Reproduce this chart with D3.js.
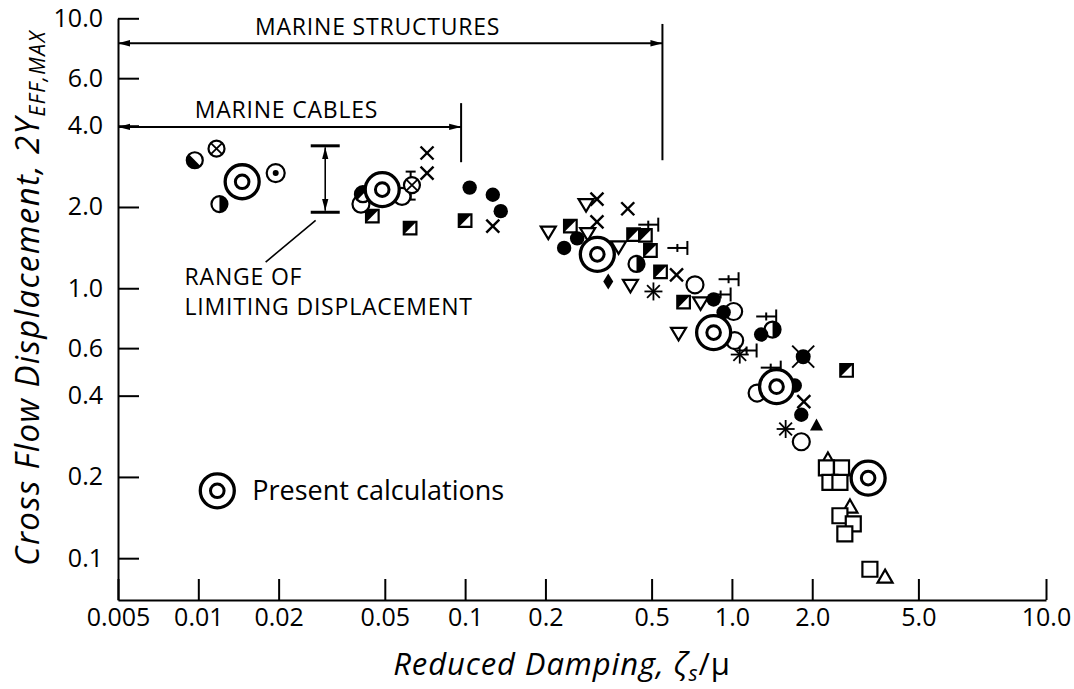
<!DOCTYPE html>
<html>
<head>
<meta charset="utf-8">
<script src="https://cdn.jsdelivr.net/npm/d3@7"></script>
<style>
  body { margin: 0; background: #fff; }
  svg { display: block; font-family: "Open Sans", sans-serif; }
</style>
</head>
<body>
<svg id="chart" width="1074" height="689"></svg>
<script>
// axis ticks
var xTicks = [0.005, 0.01, 0.02, 0.05, 0.1, 0.2, 0.5, 1, 2, 5, 10];
var xTickLabels = ["0.005", "0.01", "0.02", "0.05", "0.1", "0.2", "0.5", "1.0", "2.0", "5.0", "10.0"];
var yTicks = [0.1, 0.2, 0.4, 0.6, 1, 2, 4, 6, 10];
var yTickLabels = ["0.1", "0.2", "0.4", "0.6", "1.0", "2.0", "4.0", "6.0", "10.0"];

// points, [reduced damping, displacement], one array per symbol
var presentCalc = [[0.0146, 2.48], [0.0489, 2.32], [0.313, 1.335], [0.854, 0.685], [1.47, 0.432], [3.24, 0.198]];
var openCircle = [[0.0407, 2.05], [0.058, 2.19], [0.727, 1.03], [1.015, 0.82], [1.024, 0.64], [1.243, 0.409], [1.82, 0.27]];
var filledCircle = [[0.104, 2.36], [0.127, 2.22], [0.136, 1.93], [0.235, 1.41], [0.263, 1.53], [0.854, 0.909],
    [0.931, 0.815], [1.287, 0.674], [1.72, 0.436], [1.82, 0.34]];
var halfCircle = [[0.0097, 2.98, "ll"], [0.0120, 2.05, "r"], [0.0414, 2.23, "ul"], [0.439, 1.23, "r"], [1.42, 0.703, "r"]];
var circleCross = [[0.0117, 3.29], [0.0632, 2.41]];
var circleDot = [[0.0195, 2.67]];
var halfSquare = [[0.0449, 1.85], [0.0622, 1.67], [0.100, 1.78], [0.248, 1.70], [0.428, 1.58], [0.474, 1.57],
    [0.495, 1.38], [0.540, 1.15], [0.659, 0.888], [2.69, 0.496]];
var openSquare = [[2.26, 0.216], [2.575, 0.216], [2.33, 0.191], [2.54, 0.191], [2.54, 0.1436], [2.85, 0.134], [2.65, 0.123], [3.29, 0.091]];
var crossMark = [[0.072, 3.17], [0.072, 2.67], [0.127, 1.70], [0.312, 2.14], [0.407, 1.97], [0.312, 1.76], [0.620, 1.12], [1.86, 0.38]];
var triDown = [[0.205, 1.62], [0.284, 2.05], [0.288, 1.60], [0.376, 1.43], [0.4165, 1.03], [0.763, 0.886], [0.631, 0.683]];
var triUp = [[2.29, 0.23], [2.77, 0.154], [3.75, 0.0847]];
var triFilled = [[2.075, 0.31]];
var diamondFilled = [[0.344, 1.06]];
var asteriskMark = [[0.508, 0.973], [1.07, 0.568], [1.59, 0.301]];
var teeMark = [[0.49, 1.72], [0.63, 1.41], [0.98, 1.08], [0.915, 0.948], [1.145, 0.588], [1.356, 0.786], [1.41, 0.508]];
var barMark = [[0.0625, 2.40]];
var crossedDisc = [[1.85, 0.558]];

// ranges marked on the chart
var structuresRange = [0.005, 0.549, 8.08];   // x from, x to, at y
var structuresStop = [0.549, 9.53, 2.98];     // x, y top, y bottom
var cablesRange = [0.005, 0.0966, 3.96];
var cablesStop = [0.0966, 4.85, 2.93];
var limitRange = [0.0299, 1.912, 3.37];       // x, y low, y high
var limitLeader = [[0.02753, 1.785], [0.01788, 1.25]];
var labels = [
    ["MARINE STRUCTURES", 0.047, 8.67, "middle"],
    ["MARINE CABLES", 0.0214, 4.29, "middle"],
    ["RANGE OF", 0.00888, 1.024, "start"],
    ["LIMITING DISPLACEMENT", 0.00888, 0.793, "start"]
];
var legendAt = [0.01178, 0.1777];
var legendText = "Present calculations";

var ink = '#000';
var svg = d3.select('#chart');

// the printed x axis is even up to 5.0, the 10.0 tick is squeezed to the end of the axis
var x = d3.scaleLog().domain([0.005, 5, 10]).range([118, 918.4, 1046]);
var y = d3.scaleLog().domain([0.07, 10]).range([600, 18.3]);

var defs = svg.append('defs');
defs.append('marker')
    .attr('id', 'arrow')
    .attr('markerUnits', 'userSpaceOnUse')
    .attr('markerWidth', 12).attr('markerHeight', 8)
    .attr('refX', 12).attr('refY', 4)
    .attr('orient', 'auto-start-reverse')
    .append('path')
    .attr('d', 'M0,0.8L12,4L0,7.2Z')
    .attr('fill', ink);

// axes
var xAxis = d3.axisBottom(x).tickValues(xTicks).tickFormat(function (d, i) { return xTickLabels[i]; })
    .tickSize(-21).tickSizeOuter(0).tickPadding(8);
var yAxis = d3.axisLeft(y).tickValues(yTicks).tickFormat(function (d, i) { return yTickLabels[i]; })
    .tickSize(-21).tickSizeOuter(0).tickPadding(15);

var gx = svg.append('g').attr('transform', 'translate(0,600)').call(xAxis);
var gy = svg.append('g').attr('transform', 'translate(118,0)').call(yAxis);
[gx, gy].forEach(function (g) {
    g.attr('font-family', null).attr('font-size', null);
    g.selectAll('path, line').attr('stroke', ink).attr('stroke-width', 2);
    g.selectAll('text').attr('fill', ink).style('font-size', '25px');
});

// axis titles
var xt = svg.append('text')
    .attr('x', 562).attr('y', 675)
    .attr('text-anchor', 'middle')
    .style('font-size', '31px').style('font-style', 'italic').style('letter-spacing', '0.9px')
    .text('Reduced Damping, \u03B6');
xt.append('tspan').attr('dy', 6).style('font-size', '21px').text('s');
xt.append('tspan').attr('dy', -6).style('font-style', 'normal').text('/\u03BC');

var yt = svg.append('text')
    .attr('transform', 'translate(39,298) rotate(-90)')
    .attr('text-anchor', 'middle')
    .style('font-size', '33px').style('font-style', 'italic').style('letter-spacing', '1.4px')
    .text('Cross Flow Displacement, 2Y');
yt.append('tspan').attr('dy', 6).style('font-size', '21px').text('EFF,MAX');

// range annotations
function hArrow(r) {
    svg.append('line')
        .attr('x1', x(r[0])).attr('x2', x(r[1]))
        .attr('y1', y(r[2])).attr('y2', y(r[2]))
        .attr('stroke', ink).attr('stroke-width', 2)
        .attr('marker-start', 'url(#arrow)').attr('marker-end', 'url(#arrow)');
}
function vStop(s) {
    svg.append('line')
        .attr('x1', x(s[0])).attr('x2', x(s[0]))
        .attr('y1', y(s[1])).attr('y2', y(s[2]))
        .attr('stroke', ink).attr('stroke-width', 2);
}
hArrow(structuresRange);
vStop(structuresStop);
hArrow(cablesRange);
vStop(cablesStop);

var lx = x(limitRange[0]);
svg.append('line')
    .attr('x1', lx).attr('x2', lx)
    .attr('y1', y(limitRange[1]) - 1.5).attr('y2', y(limitRange[2]) + 1.5)
    .attr('stroke', ink).attr('stroke-width', 1.6)
    .attr('marker-start', 'url(#arrow)').attr('marker-end', 'url(#arrow)');
[limitRange[1], limitRange[2]].forEach(function (v) {
    svg.append('line')
        .attr('x1', lx - 14.5).attr('x2', lx + 14.5)
        .attr('y1', y(v)).attr('y2', y(v))
        .attr('stroke', ink).attr('stroke-width', 3);
});
svg.append('line')
    .attr('x1', x(limitLeader[0][0])).attr('y1', y(limitLeader[0][1]))
    .attr('x2', x(limitLeader[1][0])).attr('y2', y(limitLeader[1][1]))
    .attr('stroke', ink).attr('stroke-width', 1.6);

svg.selectAll('.note')
    .data(labels)
    .enter()
    .append('text')
    .attr('class', 'note')
    .attr('x', d => x(d[1]))
    .attr('y', d => y(d[2]))
    .attr('text-anchor', d => d[3])
    .style('font-size', '23px').style('letter-spacing', '0.8px')
    .attr('fill', ink)
    .text(d => d[0]);

// symbol helpers
function ring(g, r, sw, fill) {
    g.append('circle').attr('r', r).attr('fill', fill || '#fff')
        .attr('stroke', sw ? ink : 'none').attr('stroke-width', sw);
}
function seg(g, x1, y1, x2, y2, sw) {
    g.append('line').attr('x1', x1).attr('y1', y1).attr('x2', x2).attr('y2', y2)
        .attr('stroke', ink).attr('stroke-width', sw);
}
function poly(g, pts, fill, sw) {
    g.append('path').attr('d', 'M' + pts.map(p => p.join(',')).join('L') + 'Z')
        .attr('fill', fill).attr('stroke', sw ? ink : 'none').attr('stroke-width', sw || 0)
        .attr('stroke-linejoin', 'miter');
}

function present(g) {
    ring(g, 17, 3.3);
    ring(g, 6.8, 3, 'none');
}

var halfPaths = {
    ll: 'M5.66,5.66A8,8 0 0 1 -5.66,-5.66Z',
    r: 'M0,-8A8,8 0 0 1 0,8Z',
    ul: 'M-5.66,5.66A8,8 0 0 1 5.66,-5.66Z'
};

var symbols = [
    [barMark, function (g) {
        seg(g, 0, -14, 0, 14, 2); seg(g, -5, -14, 5, -14, 2); seg(g, -5, 14, 5, 14, 2);
    }],
    [teeMark, function (g) {
        seg(g, -11, 0, 9, 0, 2); seg(g, 9, -7, 9, 7, 2); seg(g, -1, -4, -1, 4, 2);
    }],
    [triDown, function (g) { poly(g, [[-7.5, -5], [7.5, -5], [0, 7.5]], '#fff', 2.2); }],
    [triUp, function (g) { poly(g, [[0, -8], [7.5, 5], [-7.5, 5]], '#fff', 2.2); }],
    [openSquare, function (g) { poly(g, [[-7.5, -7.5], [7.5, -7.5], [7.5, 7.5], [-7.5, 7.5]], '#fff', 2.2); }],
    [halfSquare, function (g) {
        poly(g, [[-6.3, -6.3], [6.3, -6.3], [6.3, 6.3], [-6.3, 6.3]], '#fff', 2.2);
        poly(g, [[-6.3, -6.3], [6.3, -6.3], [-6.3, 6.3]], ink, 0);
    }],
    [openCircle, function (g) { ring(g, 8.5, 2.2); }],
    [halfCircle, function (g, d) {
        ring(g, 8, 2.2);
        g.append('path').attr('d', halfPaths[d[2]]).attr('fill', ink);
    }],
    [circleCross, function (g) {
        ring(g, 8, 2.2); seg(g, -5.6, -5.6, 5.6, 5.6, 1.8); seg(g, -5.6, 5.6, 5.6, -5.6, 1.8);
    }],
    [circleDot, function (g) { ring(g, 9, 2.2); ring(g, 3, 0, ink); }],
    [filledCircle, function (g) { ring(g, 7.2, 0, ink); }],
    [triFilled, function (g) { poly(g, [[0, -7], [6.5, 5], [-6.5, 5]], ink, 0); }],
    [diamondFilled, function (g) { poly(g, [[0, -8], [5, 0], [0, 8], [-5, 0]], ink, 0); }],
    [crossMark, function (g) { seg(g, -6.5, -6.5, 6.5, 6.5, 2.4); seg(g, -6.5, 6.5, 6.5, -6.5, 2.4); }],
    [asteriskMark, function (g) {
        [0, 45, 90, 135].forEach(function (a) {
            var c = 9 * Math.cos(a * Math.PI / 180), s = 9 * Math.sin(a * Math.PI / 180);
            seg(g, -c, -s, c, s, 1.8);
        });
    }],
    [crossedDisc, function (g) {
        ring(g, 7.5, 0, ink); seg(g, -11, -11, 11, 11, 2); seg(g, -11, 11, 11, -11, 2);
    }],
    [presentCalc, present]
];

symbols.forEach(function (s) {
    svg.append('g')
        .selectAll('g')
        .data(s[0])
        .enter()
        .append('g')
        .attr('transform', d => 'translate(' + x(d[0]) + ',' + y(d[1]) + ')')
        .each(function (d) { s[1](d3.select(this), d); });
});

// legend
var lg = svg.append('g').attr('transform', 'translate(' + x(legendAt[0]) + ',' + y(legendAt[1]) + ')');
present(lg);
svg.append('text')
    .attr('x', x(legendAt[0]) + 35)
    .attr('y', y(legendAt[1]) + 9)
    .style('font-size', '27px')
    .attr('fill', ink)
    .text(legendText);
</script>
</body>
</html>
